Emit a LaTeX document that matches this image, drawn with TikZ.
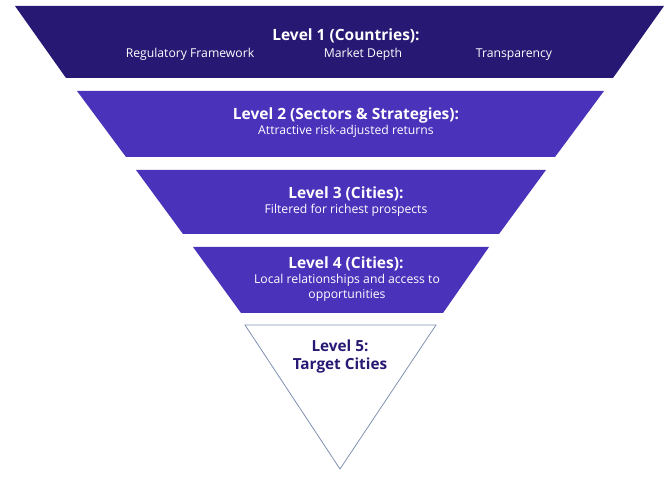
\documentclass[tikz,border=0pt]{standalone}
\usepackage{fontspec}
\setmainfont{Open Sans}
\definecolor{darkind}{HTML}{271874}
\definecolor{midind}{HTML}{4A32BB}
\definecolor{edgegrey}{HTML}{7F90B0}
\begin{document}
\begin{tikzpicture}[x=1pt,y=-1pt,
  ttl/.style={font=\bfseries\fontsize{15.5}{18}\selectfont, text=white, inner sep=0pt, anchor=base},
  sub/.style={font=\fontsize{12.2}{15}\selectfont, text=white, inner sep=0pt, anchor=base},
  tri/.style={font=\bfseries\fontsize{15.3}{19}\selectfont, text=darkind, inner sep=0pt, anchor=base}]
\useasboundingbox (0,0) rectangle (670,478);
% level 1
\fill[darkind] (15,6) -- (664,6) -- (613,78) -- (66,78) -- cycle;
\node[ttl] (l1) at (346,40.5) {Level 1 (Countries):};
\node[sub] (l1a) at (190,57.7) {Regulatory Framework};
\node[sub] (l1b) at (363,57.7) {Market Depth};
\node[sub] (l1c) at (514,57.7) {Transparency};
% level 2
\fill[midind] (77,91) -- (604,91) -- (555,157) -- (126,157) -- cycle;
\node[ttl] (l2) at (346,120) {Level 2 (Sectors \& Strategies):};
\node[sub] (l2a) at (346,135) {Attractive risk-adjusted returns};
% level 3
\fill[midind] (136,170) -- (546,170) -- (499,234) -- (183,234) -- cycle;
\node[ttl] (l3) at (346,198.5) {Level 3 (Cities):};
\node[sub] (l3a) at (346,213.5) {Filtered for richest prospects};
% level 4
\fill[midind] (193,247) -- (489,247) -- (443,313) -- (241,313) -- cycle;
\node[ttl] (l4) at (346,268.3) {Level 4 (Cities):};
\node[sub] (l4a) at (347,283.3) {Local relationships and access to};
\node[sub] (l4b) at (347,298.3) {opportunities};
% level 5
\draw[edgegrey, line width=0.8pt, line join=miter] (245,325) -- (436,325) -- (340,469) -- cycle;
\node[tri] (l5) at (340,351.7) {Level 5:};
\node[tri] (l5b) at (340,370) {Target Cities};
\end{tikzpicture}
\end{document}
